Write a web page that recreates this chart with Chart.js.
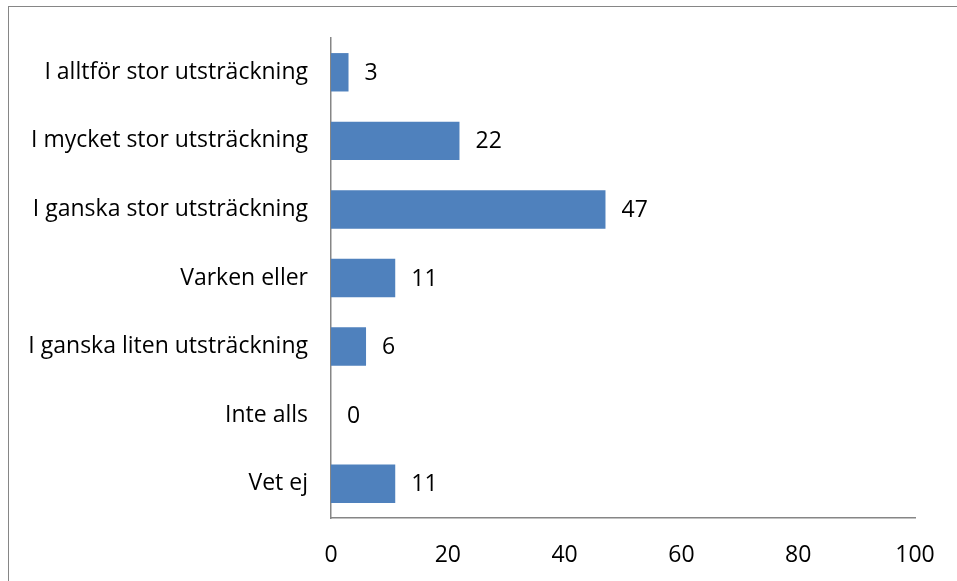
<!DOCTYPE html>
<html>
<head>
<meta charset="utf-8">
<script src="https://cdn.jsdelivr.net/npm/chart.js@4/dist/chart.umd.min.js"></script>
<style>
  html, body { margin: 0; padding: 0; background: #fff; overflow: hidden; }
  #frame { position: absolute; left: 8px; top: 6px; width: 1000px; height: 700px; border: 1px solid #868686; }
  #chart { position: absolute; left: 0; top: 0; }
</style>
</head>
<body>
<div id="frame"></div>
<canvas id="chart" width="957" height="581"></canvas>
<script>
// categories, top to bottom
const labels = [
  'I alltför stor utsträckning',
  'I mycket stor utsträckning',
  'I ganska stor utsträckning',
  'Varken eller',
  'I ganska liten utsträckning',
  'Inte alls',
  'Vet ej'
];
// values per category
const values = [3, 22, 47, 11, 6, 0, 11];
// x axis ticks
const xTicks = [0, 20, 40, 60, 80, 100];

const font = { family: '"Open Sans", sans-serif', size: 23 };

//draw the value next to each bar
const valueLabels = {
  id: 'valueLabels',
  afterDatasetsDraw(chart) {
    const ctx = chart.ctx;
    const meta = chart.getDatasetMeta(0);
    ctx.save();
    ctx.font = font.size + 'px ' + font.family;
    ctx.fillStyle = '#000';
    ctx.textAlign = 'left';
    ctx.textBaseline = 'middle';
    meta.data.forEach(function(bar, i) {
      ctx.fillText(String(values[i]), bar.x + 16, bar.y + 1);
    });
    ctx.restore();
  }
};

let ctx = document.getElementById('chart').getContext('2d');
let myChart = new Chart(ctx, {
  type: 'bar',
  data: {
    labels: labels,
    datasets: [{
      data: values,
      backgroundColor: '#4F81BD',
      borderWidth: 0,
      barPercentage: 0.56,
      categoryPercentage: 1
    }]
  },
  options: {
    indexAxis: 'y',
    responsive: false,
    animation: false,
    layout: { padding: { top: 38, right: 42, left: 0, bottom: 0 } },
    plugins: { legend: { display: false }, tooltip: { enabled: false } },
    scales: {
      x: {
        min: 0,
        max: 100,
        afterBuildTicks: function(scale) {
          scale.ticks = xTicks.map(v => ({ value: v }));
        },
        afterFit: function(scale) { scale.height = 63; },
        grid: { display: false },
        border: { display: true, color: '#868686', width: 1.5 },
        ticks: { font: font, color: '#000', padding: 16, maxRotation: 0 }
      },
      y: {
        afterFit: function(scale) { scale.width = 331; },
        grid: { display: false },
        border: { display: true, color: '#868686', width: 1.5 },
        ticks: { font: font, color: '#000', padding: 15 }
      }
    }
  },
  plugins: [valueLabels]
});
</script>
</body>
</html>
